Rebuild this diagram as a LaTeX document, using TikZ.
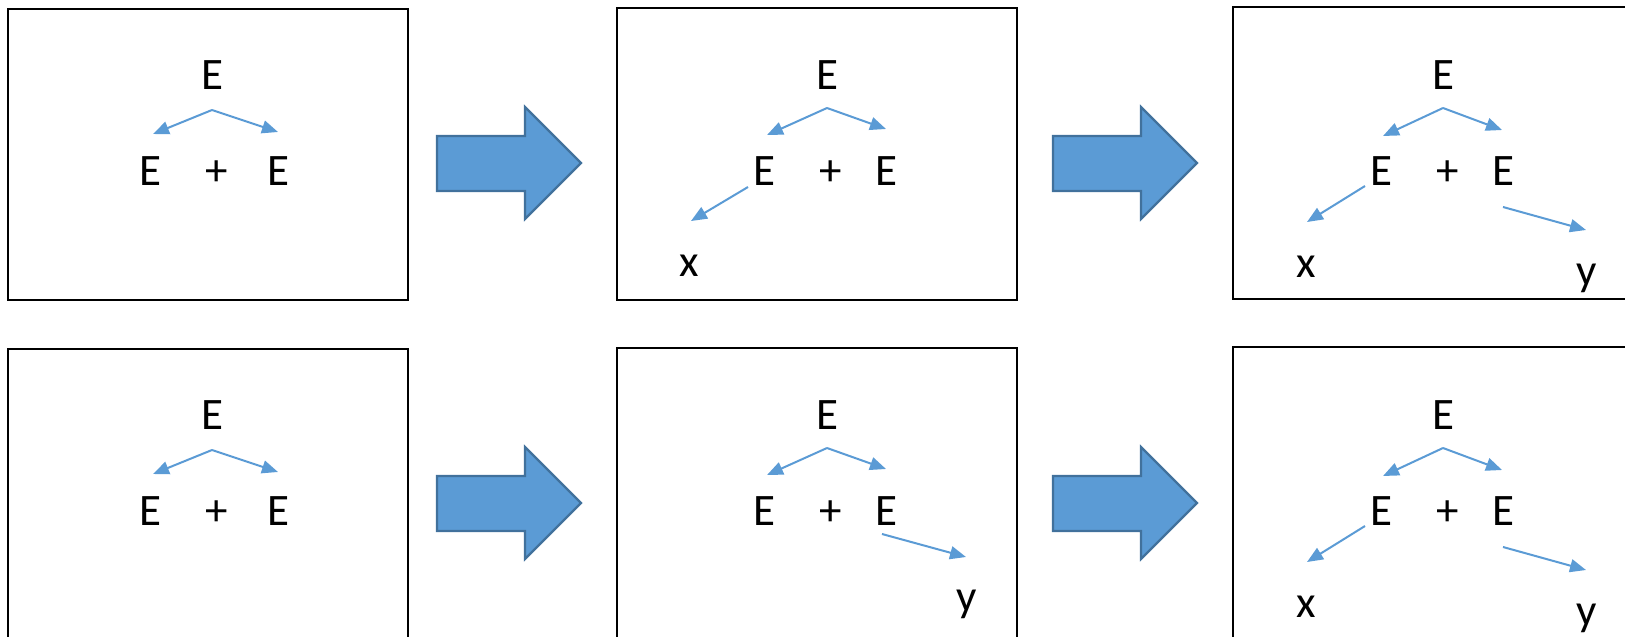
\documentclass[tikz,border=0pt]{standalone}
\usepackage{fontspec}
\setmainfont{Carlito}
\usetikzlibrary{arrows.meta}
\definecolor{lineblue}{HTML}{5B9BD5}
\definecolor{fillblue}{HTML}{5B9BD5}
\definecolor{edgeblue}{HTML}{41719C}
\begin{document}
\begin{tikzpicture}[x=1pt,y=-1pt,
  frame/.style={draw=black, line width=2.6pt},
  sym/.style={anchor=base, inner sep=0pt, font=\fontsize{45}{50}\selectfont},
  link/.style={draw=lineblue, line width=2pt, -{Triangle[length=16pt,width=13pt]}},
  bigarrow/.style={fill=fillblue, draw=edgeblue, line width=2.2pt, line join=miter}]
\useasboundingbox (0,0) rectangle (1625,637);
\clip (0,0) rectangle (1625,637);

% ---------- top row ----------
% box 1
\draw[frame] (8,9) rectangle (408,300);
\node[sym] (A-E) at (212,89) {E};
\node[sym] (A-L) at (150,185) {E};
\node[sym] (A-P) at (217,185) {+};
\node[sym] (A-R) at (278,185) {E};
\coordinate (A-apex) at (212,110);
\coordinate (A-tl) at (153,134);
\coordinate (A-tr) at (278,132);
\draw[link] (A-apex) -- (A-tl);
\draw[link] (A-apex) -- (A-tr);

% block arrow 1
\draw[bigarrow] (437,136) -- (525,136) -- (525,107) -- (581,163) -- (525,219) -- (525,191) -- (437,191) -- cycle;

% box 2
\draw[frame] (617,8) rectangle (1017,300);
\node[sym] (B-E) at (827,89) {E};
\node[sym] (B-L) at (764,185) {E};
\node[sym] (B-P) at (831,185) {+};
\node[sym] (B-R) at (886,185) {E};
\node[sym] (B-x) at (689,276) {x};
\coordinate (B-apex) at (827,108);
\coordinate (B-tl) at (767,135);
\coordinate (B-tr) at (886,129);
\coordinate (B-xs) at (748,187);
\coordinate (B-xt) at (691,221);
\draw[link] (B-apex) -- (B-tl);
\draw[link] (B-apex) -- (B-tr);
\draw[link] (B-xs) -- (B-xt);

% block arrow 2
\draw[bigarrow] (1053,136) -- (1141,136) -- (1141,107) -- (1197,163) -- (1141,219) -- (1141,191) -- (1053,191) -- cycle;

% box 3
\draw[frame] (1233,7) rectangle (1660,299);
\node[sym] (C-E) at (1443,89) {E};
\node[sym] (C-L) at (1381,185) {E};
\node[sym] (C-P) at (1448,185) {+};
\node[sym] (C-R) at (1503,185) {E};
\node[sym] (C-x) at (1306,277) {x};
\node[sym] (C-y) at (1587,285) {y};
\coordinate (C-apex) at (1443,108);
\coordinate (C-tl) at (1383,136);
\coordinate (C-tr) at (1502,130);
\coordinate (C-xs) at (1365,186);
\coordinate (C-xt) at (1307,222);
\coordinate (C-ys) at (1503,207);
\coordinate (C-yt) at (1586,230);
\draw[link] (C-apex) -- (C-tl);
\draw[link] (C-apex) -- (C-tr);
\draw[link] (C-xs) -- (C-xt);
\draw[link] (C-ys) -- (C-yt);

% ---------- bottom row ----------
\begin{scope}[shift={(0,340)}]
% box 4
\draw[frame] (8,9) rectangle (408,340);
\node[sym] (D-E) at (212,89) {E};
\node[sym] (D-L) at (150,185) {E};
\node[sym] (D-P) at (217,185) {+};
\node[sym] (D-R) at (278,185) {E};
\coordinate (D-apex) at (212,110);
\coordinate (D-tl) at (153,134);
\coordinate (D-tr) at (278,132);
\draw[link] (D-apex) -- (D-tl);
\draw[link] (D-apex) -- (D-tr);

% block arrow 3
\draw[bigarrow] (437,136) -- (525,136) -- (525,107) -- (581,163) -- (525,219) -- (525,191) -- (437,191) -- cycle;

% box 5
\draw[frame] (617,8) rectangle (1017,340);
\node[sym] (F-E) at (827,89) {E};
\node[sym] (F-L) at (764,185) {E};
\node[sym] (F-P) at (831,185) {+};
\node[sym] (F-R) at (886,185) {E};
\node[sym] (F-y) at (967,271) {y};
\coordinate (F-apex) at (827,108);
\coordinate (F-tl) at (767,135);
\coordinate (F-tr) at (886,129);
\coordinate (F-ys) at (882,194);
\coordinate (F-yt) at (966,217);
\draw[link] (F-apex) -- (F-tl);
\draw[link] (F-apex) -- (F-tr);
\draw[link] (F-ys) -- (F-yt);

% block arrow 4
\draw[bigarrow] (1053,136) -- (1141,136) -- (1141,107) -- (1197,163) -- (1141,219) -- (1141,191) -- (1053,191) -- cycle;

% box 6
\draw[frame] (1233,7) rectangle (1660,340);
\node[sym] (G-E) at (1443,89) {E};
\node[sym] (G-L) at (1381,185) {E};
\node[sym] (G-P) at (1448,185) {+};
\node[sym] (G-R) at (1503,185) {E};
\node[sym] (G-x) at (1306,277) {x};
\node[sym] (G-y) at (1587,285) {y};
\coordinate (G-apex) at (1443,108);
\coordinate (G-tl) at (1383,136);
\coordinate (G-tr) at (1502,130);
\coordinate (G-xs) at (1365,186);
\coordinate (G-xt) at (1307,222);
\coordinate (G-ys) at (1503,207);
\coordinate (G-yt) at (1586,230);
\draw[link] (G-apex) -- (G-tl);
\draw[link] (G-apex) -- (G-tr);
\draw[link] (G-xs) -- (G-xt);
\draw[link] (G-ys) -- (G-yt);
\end{scope}
\end{tikzpicture}
\end{document}
